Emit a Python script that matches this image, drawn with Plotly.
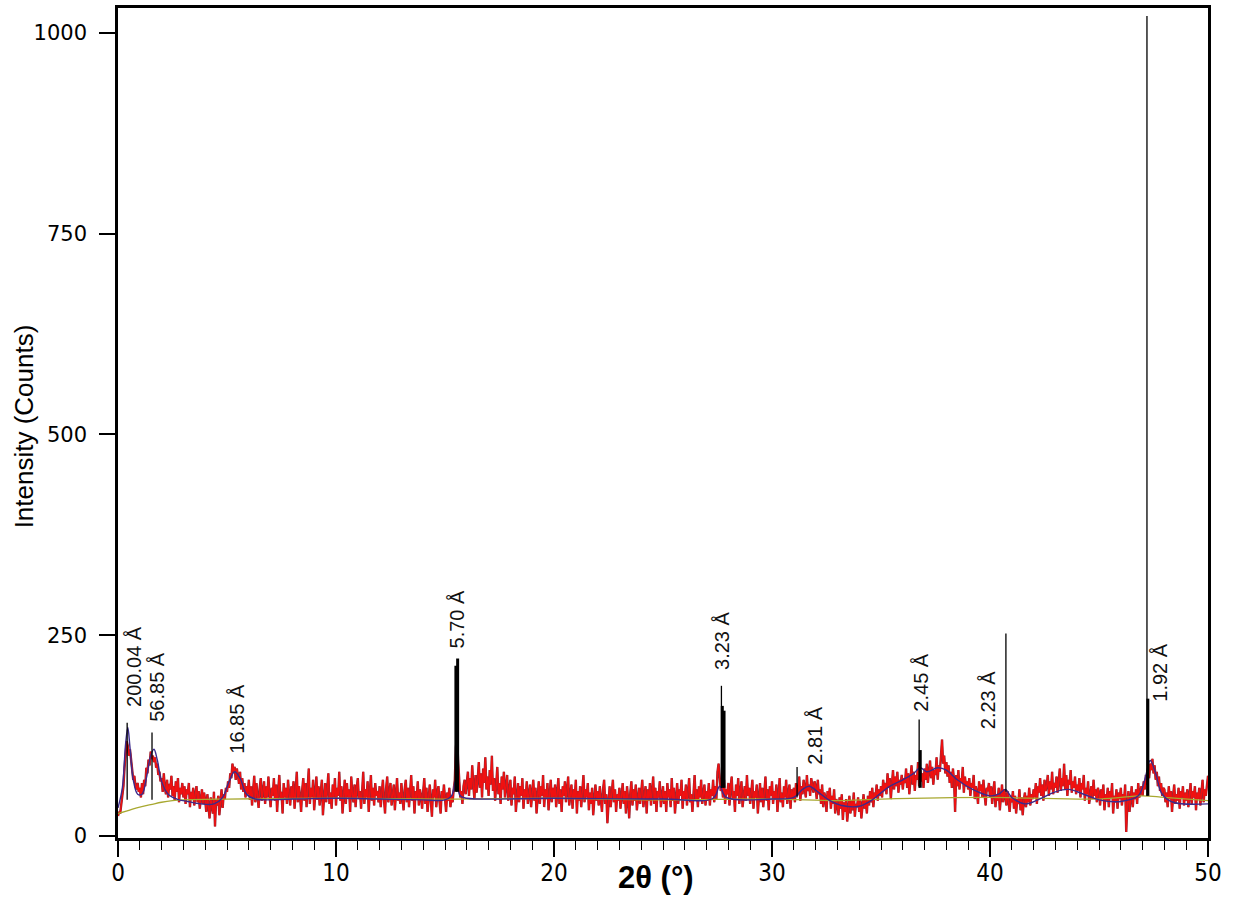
import plotly.graph_objects as go

# ---------------- data ----------------
x_start = 0.0
x_step = 0.05
counts = [
    25, 30, 28, 40, 45, 62, 85, 105, 118, 112, 100, 108, 92, 80, 70, 75, 62, 58, 66, 55,
    60, 48, 66, 52, 70, 62, 85, 78, 95, 88, 105, 96, 100, 92, 98, 85, 90, 76, 80, 68,
    72, 55, 78, 60, 52, 70, 48, 65, 58, 75, 50, 62, 45, 68, 55, 72, 42, 60, 52, 66,
    48, 62, 40, 58, 52, 66, 36, 55, 45, 60, 38, 52, 62, 42, 56, 34, 50, 58, 40, 54,
    44, 30, 52, 36, 22, 48, 40, 28, 55, 12, 45, 38, 50, 26, 42, 58, 35, 52, 46, 60,
    55, 68, 60, 78, 72, 90, 80, 86, 70, 84, 76, 65, 80, 58, 72, 55, 66, 48, 62, 52,
    70, 45, 62, 38, 58, 75, 42, 66, 50, 35, 60, 72, 44, 56, 68, 40, 62, 48, 74, 52,
    36, 60, 50, 72, 44, 64, 30, 58, 76, 46, 55, 28, 66, 48, 60, 40, 70, 52, 38, 62,
    46, 68, 34, 56, 80, 42, 62, 50, 30, 58, 72, 44, 66, 36, 54, 84, 40, 60, 48, 70,
    32, 58, 74, 45, 62, 38, 56, 70, 26, 52, 66, 42, 60, 78, 40, 54, 34, 64, 48, 72,
    38, 60, 50, 80, 44, 62, 28, 56, 70, 40, 66, 48, 58, 30, 74, 52, 42, 64, 36, 60,
    72, 46, 56, 34, 62, 80, 40, 58, 48, 68, 30, 54, 76, 44, 60, 38, 66, 50, 56, 42,
    62, 36, 54, 70, 46, 28, 60, 74, 42, 56, 66, 38, 50, 64, 32, 58, 72, 44, 54, 40,
    66, 48, 32, 58, 70, 42, 60, 36, 52, 76, 44, 62, 28, 56, 46, 68, 38, 58, 50, 34,
    56, 72, 40, 60, 30, 52, 64, 44, 24, 58, 48, 70, 36, 54, 62, 42, 28, 56, 46, 64,
    40, 30, 54, 44, 60, 36, 50, 42, 58, 70, 110, 125, 95, 60, 48, 56, 40, 62, 70, 52,
    66, 80, 50, 72, 58, 88, 62, 46, 76, 54, 70, 92, 60, 78, 48, 84, 66, 98, 58, 74,
    50, 82, 64, 100, 56, 72, 44, 68, 86, 52, 66, 40, 74, 58, 80, 48, 62, 76, 44, 58,
    70, 38, 60, 52, 74, 30, 56, 66, 42, 62, 50, 72, 34, 58, 46, 68, 40, 56, 64, 36,
    54, 70, 44, 60, 28, 56, 68, 40, 62, 50, 76, 36, 58, 46, 66, 32, 54, 70, 42, 60,
    48, 64, 36, 56, 72, 40, 58, 30, 62, 50, 68, 42, 56, 74, 38, 52, 64, 34, 58, 46,
    70, 28, 56, 44, 62, 36, 54, 76, 42, 58, 48, 66, 32, 54, 40, 60, 26, 50, 64, 44,
    56, 38, 62, 46, 30, 58, 70, 40, 52, 16, 48, 62, 36, 56, 70, 42, 58, 30, 52, 44,
    60, 34, 50, 66, 40, 56, 28, 62, 46, 22, 54, 68, 38, 58, 44, 64, 32, 52, 60, 40,
    56, 70, 36, 50, 62, 28, 58, 44, 66, 38, 54, 74, 40, 60, 30, 56, 48, 68, 36, 54,
    62, 40, 56, 30, 66, 48, 58, 36, 72, 44, 60, 28, 54, 66, 40, 58, 50, 70, 34, 56,
    46, 64, 38, 56, 72, 42, 52, 30, 60, 76, 44, 58, 36, 62, 48, 70, 40, 54, 64, 38,
    56, 44, 66, 38, 58, 50, 70, 42, 62, 46, 80, 90, 74, 56, 64, 48, 70, 40, 58, 52,
    66, 38, 60, 74, 46, 56, 30, 64, 50, 72, 40, 58, 68, 36, 54, 62, 44, 76, 50, 60,
    40, 58, 70, 34, 56, 48, 64, 28, 52, 66, 42, 60, 36, 56, 74, 44, 58, 32, 62, 50,
    68, 40, 56, 46, 64, 30, 58, 72, 42, 54, 36, 62, 48, 70, 40, 56, 64, 34, 58, 46,
    60, 42, 66, 50, 56, 74, 44, 62, 52, 70, 58, 48, 76, 56, 64, 50, 72, 60, 54, 68,
    62, 46, 70, 52, 58, 40, 64, 36, 54, 48, 30, 56, 44, 60, 34, 50, 40, 58, 28, 46,
    40, 26, 48, 34, 52, 20, 42, 30, 46, 18, 38, 50, 28, 44, 32, 54, 24, 40, 36, 48,
    30, 44, 22, 40, 52, 34, 46, 28, 50, 38, 56, 42, 60, 36, 54, 48, 64, 44, 58, 50,
    62, 48, 70, 56, 66, 52, 78, 60, 72, 46, 68, 82, 58, 74, 62, 80, 54, 70, 64, 76,
    58, 72, 66, 84, 60, 78, 52, 74, 88, 64, 80, 56, 76, 70, 92, 62, 82, 68, 78, 60,
    84, 70, 90, 66, 80, 94, 72, 86, 64, 82, 76, 98, 70, 88, 80, 104, 120, 90, 100, 78,
    92, 74, 88, 66, 80, 60, 84, 70, 30, 76, 62, 82, 58, 72, 66, 86, 54, 74, 62, 68,
    58, 72, 50, 66, 60, 76, 46, 62, 54, 40, 68, 56, 64, 48, 70, 52, 38, 60, 56, 66,
    48, 62, 40, 56, 68, 36, 52, 44, 60, 32, 54, 64, 42, 58, 50, 38, 56, 46, 30, 50,
    42, 56, 34, 50, 28, 46, 40, 58, 32, 48, 26, 44, 54, 36, 50, 42, 60, 38, 52, 46,
    58, 48, 66, 40, 62, 54, 72, 50, 64, 44, 70, 56, 62, 76, 50, 68, 58, 80, 52, 66,
    60, 74, 54, 68, 84, 56, 72, 62, 90, 58, 76, 50, 70, 64, 82, 54, 68, 60, 74, 52,
    64, 56, 72, 48, 66, 58, 76, 44, 60, 52, 68, 40, 56, 62, 46, 70, 50, 58, 42, 60,
    54, 38, 58, 46, 64, 32, 52, 44, 60, 36, 56, 48, 66, 28, 50, 42, 58, 34, 54, 46,
    60, 38, 52, 44, 64, 5, 40, 56, 30, 50, 62, 36, 54, 46, 58, 40, 66, 48, 56, 62,
    50, 68, 58, 76, 64, 84, 72, 90, 82, 96, 78, 88, 70, 80, 62, 74, 56, 66, 50, 60,
    58, 42, 54, 36, 62, 46, 56, 30, 50, 64, 40, 52, 44, 60, 34, 56, 48, 62, 38, 54,
    44, 58, 36, 52, 66, 40, 56, 48, 62, 32, 54, 46, 60, 38, 56, 70, 42, 58, 50, 66,
    75,
]

fit_x = [0.0, 0.2, 0.35, 0.45, 0.55, 0.7, 0.9, 1.1, 1.3, 1.5, 1.65, 1.8, 2.0, 2.3, 2.7,
         3.2, 3.8, 4.4, 4.8, 5.1, 5.35, 5.6, 5.9, 6.3, 8.0, 10.0, 12.0, 14.0, 15.0,
         15.3, 15.5, 15.7, 16.0, 20.0, 25.0, 27.3, 27.6, 27.9, 30.0, 31.0, 31.4, 31.7,
         32.1, 32.6, 33.2, 34.0, 34.6, 35.3, 36.0, 36.5, 36.8, 37.1, 37.6, 38.0, 38.5,
         39.2, 40.0, 40.4, 40.7, 41.0, 41.6, 42.2, 43.0, 43.6, 44.3, 45.0, 46.0, 46.8,
         47.1, 47.35, 47.6, 47.9, 48.4, 50.0]
fit_y = [35, 60, 115, 135, 110, 70, 52, 52, 72, 100, 108, 95, 68, 52, 46,
         43, 40, 40, 48, 68, 80, 72, 52, 46, 46, 47, 46, 45, 45,
         50, 70, 50, 47, 47, 46, 47, 62, 48, 46, 48, 58, 62,
         55, 45, 38, 37, 45, 60, 70, 78, 85, 80, 85, 82, 70,
         58, 50, 52, 58, 48, 40, 45, 55, 58, 52, 45, 43, 50,
         70, 94, 78, 52, 42, 40]

bg_x = [0, 0.5, 1, 1.5, 2, 2.5, 3, 5, 10, 15, 20, 25, 30, 33, 35, 40, 45, 47, 48, 50]
bg_y = [28, 32, 36, 39, 42, 44, 45, 46, 47, 46, 47, 45, 46, 44, 46, 48, 46, 50, 48, 44]

thin_stick_x = [0.42, 1.56, 27.68, 31.15, 36.75, 40.73, 47.2]
thin_stick_lo = [45, 45, 60, 48, 60, 55, 50]
thin_stick_hi = [141, 129, 187, 86, 145, 252, 1021]

thick_stick_x = [15.5, 15.58, 27.72, 27.8, 36.8, 47.24]
thick_stick_lo = [55, 55, 60, 60, 60, 50]
thick_stick_hi = [212, 221, 162, 156, 107, 171]

label_text = ["200.04 Å", "56.85 Å", "16.85 Å", "5.70 Å", "3.23 Å",
              "2.81 Å", "2.45 Å", "2.23 Å", "1.92 Å"]
label_x = [0.73, 1.79, 5.45, 15.54, 27.68, 31.99, 36.85, 39.92, 47.8]
label_y = [160, 141, 101, 232, 206, 88, 154, 132, 166]

x_ticks = [0, 10, 20, 30, 40, 50]
y_ticks = [0, 250, 500, 750, 1000]
x_title = "2θ (°)"
y_title = "Intensity (Counts)"

# ---------------- figure ----------------
two_theta = [round(x_start + i * x_step, 3) for i in range(len(counts))]


def segments(xs, lo, hi):
    sx, sy = [], []
    for x, a, b in zip(xs, lo, hi):
        sx += [x, x, None]
        sy += [a, b, None]
    return sx, sy


fig = go.Figure()
# darker outline under the red data line (gives the dark spike fringes)
fig.add_trace(go.Scatter(x=two_theta, y=counts, mode="lines",
                         line=dict(color="#8a2a3a", width=2.4), hoverinfo="skip"))
fig.add_trace(go.Scatter(x=two_theta, y=counts, mode="lines",
                         line=dict(color="#f01010", width=1.4), hoverinfo="skip"))
fig.add_trace(go.Scatter(x=bg_x, y=bg_y, mode="lines", line_shape="spline",
                         line=dict(color="#a8a830", width=1.3), hoverinfo="skip"))
fig.add_trace(go.Scatter(x=fit_x, y=fit_y, mode="lines", line_shape="spline",
                         line=dict(color="#3b2a8c", width=1.4), hoverinfo="skip"))
tx, ty = segments(thin_stick_x, thin_stick_lo, thin_stick_hi)
fig.add_trace(go.Scatter(x=tx, y=ty, mode="lines",
                         line=dict(color="black", width=1.3), hoverinfo="skip"))
kx, ky = segments(thick_stick_x, thick_stick_lo, thick_stick_hi)
fig.add_trace(go.Scatter(x=kx, y=ky, mode="lines",
                         line=dict(color="black", width=3), hoverinfo="skip"))

for t, x, y in zip(label_text, label_x, label_y):
    fig.add_annotation(x=x, y=y, text=t, textangle=-90, showarrow=False,
                       xanchor="center", yanchor="bottom", borderpad=0,
                       font=dict(family="Liberation Sans", size=20, color="#111"))

fig.add_annotation(xref="paper", yref="paper", x=0.4936, y=-0.048, text=x_title,
                   showarrow=False, xanchor="center", yanchor="middle",
                   font=dict(family="Liberation Sans", size=31, color="black", weight="bold"))
fig.add_annotation(xref="paper", yref="paper", x=-0.0862, y=0.496, text=y_title,
                   textangle=-90, showarrow=False, xanchor="center", yanchor="middle",
                   font=dict(family="Liberation Sans", size=26, color="black"))

fig.update_layout(
    width=1235, height=899,
    margin=dict(l=118, r=27, t=5, b=61),
    paper_bgcolor="white", plot_bgcolor="white",
    showlegend=False,
    xaxis=dict(range=[0, 50], tickvals=x_ticks, ticks="outside", ticklen=16,
               tickwidth=1.5, tickcolor="black", showgrid=False, zeroline=False,
               showline=True, mirror=True, linecolor="black", linewidth=2.5,
               ticklabelstandoff=-5,
               tickfont=dict(family="DejaVu Sans Condensed, Liberation Sans Narrow, Liberation Sans",
                             size=24, color="black"),
               minor=dict(dtick=1, ticks="outside", ticklen=9, tickwidth=1.2,
                          tickcolor="black", showgrid=False)),
    yaxis=dict(range=[-2.5, 1031], tickvals=y_ticks, ticks="outside", ticklen=16,
               tickwidth=1.5, tickcolor="black", showgrid=False, zeroline=False,
               showline=True, mirror=True, linecolor="black", linewidth=2.5,
               ticklabelstandoff=8,
               tickfont=dict(family="DejaVu Sans", size=21, color="black")),
)

fig.write_html("out.html")
